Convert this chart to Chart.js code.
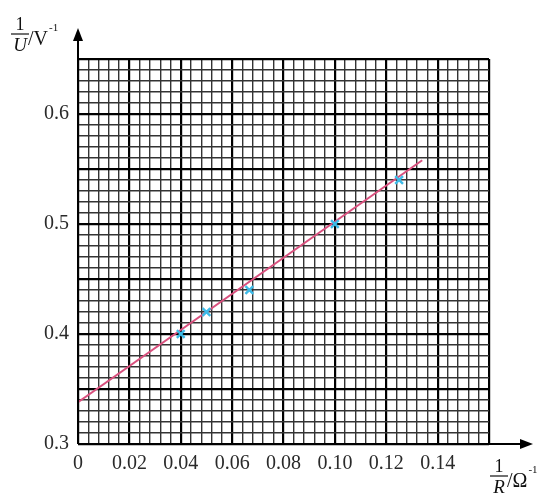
<!DOCTYPE html>
<html>
<head>
<meta charset="utf-8">
<script src="https://cdn.jsdelivr.net/npm/chart.js@4/dist/chart.umd.min.js"></script>
<style>
    html, body { margin: 0; padding: 0; background: #ffffff; }
    canvas { display: block; }
</style>
</head>
<body>
<canvas id="graphCanvas" width="547" height="499"></canvas>
<script>
// 測定点（1/R, 1/U）
const invR = [0.04, 0.05, 0.0667, 0.10, 0.125];
const invU = [0.40, 0.42, 0.44, 0.50, 0.54];

// フィット直線の両端
const fitX = [0, 0.134];
const fitY = [0.338, 0.558];

// 目盛ラベル
const xTickValues = [0, 0.02, 0.04, 0.06, 0.08, 0.10, 0.12, 0.14];
const xTickLabels = ['0', '0.02', '0.04', '0.06', '0.08', '0.10', '0.12', '0.14'];
const yTickValues = [0.3, 0.4, 0.5, 0.6];
const yTickLabels = ['0.3', '0.4', '0.5', '0.6'];

const SERIF = '"Liberation Serif", "DejaVu Serif", serif';

/**
 * 目盛値に一致するラベルを探す
 */
function findLabel(value, values, labels) {
    const i = values.findIndex((v) => Math.abs(v - value) < 1e-6);
    return i >= 0 ? labels[i] : '';
}

/**
 * 分数形式の軸タイトルを描画する
 */
function drawFractionTitle(ctx, x, y, letter, unit) {
    ctx.save();
    ctx.fillStyle = '#111111';
    ctx.strokeStyle = '#111111';
    ctx.textBaseline = 'alphabetic';
    ctx.textAlign = 'center';
    // 分子
    ctx.font = `18px ${SERIF}`;
    ctx.fillText('1', x, y - 4);
    // 分数線
    ctx.lineWidth = 1.2;
    ctx.beginPath();
    ctx.moveTo(x - 9, y);
    ctx.lineTo(x + 9, y);
    ctx.stroke();
    // 分母（斜体）
    ctx.font = `italic 19px ${SERIF}`;
    ctx.fillText(letter, x, y + 17);
    // 単位
    ctx.textAlign = 'left';
    ctx.font = `20px ${SERIF}`;
    ctx.fillText(unit, x + 8, y + 11);
    const w = ctx.measureText(unit).width;
    ctx.font = `11px ${SERIF}`;
    ctx.fillText('-1', x + 9 + w, y - 3);
    ctx.restore();
}

const axisPlugin = {
    id: 'axisArrows',
    afterDraw: (chart) => {
        const ctx = chart.ctx;
        const xs = chart.scales.x;
        const ys = chart.scales.y;
        const x0 = xs.getPixelForValue(0);
        const y0 = ys.getPixelForValue(0.3);
        const top = 28;
        const right = 533;

        ctx.save();
        ctx.strokeStyle = '#000000';
        ctx.fillStyle = '#000000';
        ctx.lineWidth = 2;

        // 縦軸
        ctx.beginPath();
        ctx.moveTo(x0, y0);
        ctx.lineTo(x0, top + 8);
        ctx.stroke();
        ctx.beginPath();
        ctx.moveTo(x0, top);
        ctx.lineTo(x0 - 5, top + 13);
        ctx.lineTo(x0 + 5, top + 13);
        ctx.closePath();
        ctx.fill();

        // 横軸
        ctx.beginPath();
        ctx.moveTo(x0, y0);
        ctx.lineTo(right - 8, y0);
        ctx.stroke();
        ctx.beginPath();
        ctx.moveTo(right, y0);
        ctx.lineTo(right - 13, y0 - 5);
        ctx.lineTo(right - 13, y0 + 5);
        ctx.closePath();
        ctx.fill();
        ctx.restore();

        // 軸タイトル
        drawFractionTitle(ctx, 20, 34, 'U', '/V');
        drawFractionTitle(ctx, 499, 476, 'R', '/\u03A9');
    },
};

const ctx = document.querySelector('#graphCanvas').getContext('2d');

new Chart(ctx, {
    type: 'scatter',
    data: {
        datasets: [
            {
                label: 'points',
                data: invR.map((x, i) => ({ x: x, y: invU[i] })),
                pointStyle: 'crossRot',
                pointRadius: 5.5,
                pointBorderWidth: 2.4,
                borderColor: '#3dbbe8',
                backgroundColor: '#3dbbe8',
                showLine: false,
                order: 0,
            },
            {
                label: 'fit',
                data: fitX.map((x, i) => ({ x: x, y: fitY[i] })),
                showLine: true,
                borderColor: '#d9507e',
                borderWidth: 2,
                pointRadius: 0,
                order: 1,
            },
        ],
    },
    options: {
        responsive: false,
        devicePixelRatio: 1,
        animation: false,
        layout: { padding: { top: 59, right: 58, bottom: 0, left: 0 } },
        plugins: {
            legend: { display: false },
            tooltip: { enabled: false },
        },
        scales: {
            x: {
                type: 'linear',
                min: 0,
                max: 0.16,
                afterFit: (scale) => { scale.height = 55; },
                border: { display: false },
                grid: {
                    drawTicks: false,
                    color: (c) => (Math.round(c.tick.value * 1000) % 20 === 0 ? '#000000' : '#333333'),
                    lineWidth: (c) => (Math.round(c.tick.value * 1000) % 20 === 0 ? 2.2 : 1.4),
                },
                ticks: {
                    stepSize: 0.004,
                    maxTicksLimit: 100,
                    autoSkip: false,
                    maxRotation: 0,
                    padding: 8,
                    color: '#2a2a2a',
                    font: { family: SERIF, size: 20 },
                    callback: (v) => findLabel(v, xTickValues, xTickLabels),
                },
            },
            y: {
                type: 'linear',
                min: 0.3,
                max: 0.65,
                afterFit: (scale) => { scale.width = 78; },
                border: { display: false },
                grid: {
                    drawTicks: false,
                    color: (c) => (Math.round(c.tick.value * 1000) % 50 === 0 ? '#000000' : '#333333'),
                    lineWidth: (c) => (Math.round(c.tick.value * 1000) % 50 === 0 ? 2.2 : 1.4),
                },
                ticks: {
                    stepSize: 0.01,
                    maxTicksLimit: 100,
                    autoSkip: false,
                    padding: 9,
                    color: '#2a2a2a',
                    font: { family: SERIF, size: 20 },
                    callback: (v) => findLabel(v, yTickValues, yTickLabels),
                },
            },
        },
    },
    plugins: [axisPlugin],
});
</script>
</body>
</html>
